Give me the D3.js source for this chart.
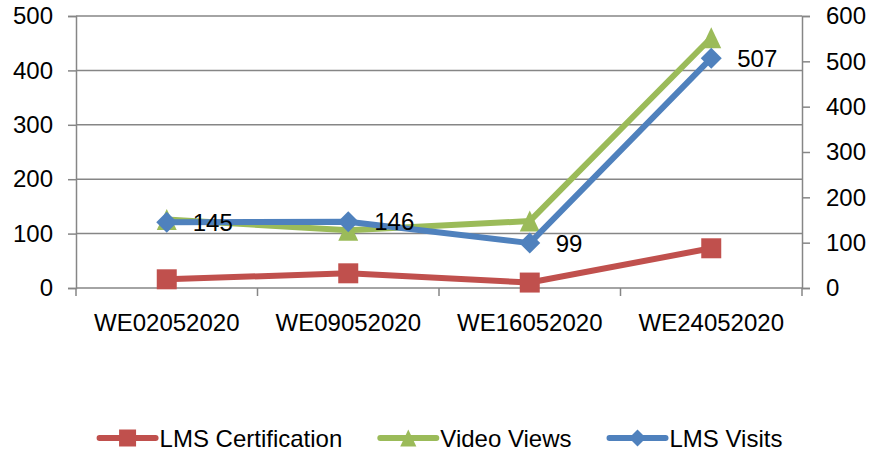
<!DOCTYPE html>
<html>
<head>
<meta charset="utf-8">
<script src="https://cdn.jsdelivr.net/npm/d3@7"></script>
<style>
  html, body { margin: 0; padding: 0; background: #fff; }
  svg text { font-family: "Liberation Sans", Arial, sans-serif; fill: #000; }
</style>
</head>
<body>
<div id="chart"></div>
<script>
// Chart data
const categories = ["WE02052020", "WE09052020", "WE16052020", "WE24052020"];
const lmsCertification = [16, 27, 10, 73];
const videoViews = [126, 106, 123, 460];
const lmsVisits = [145, 146, 99, 507];
const leftTicks = [0, 100, 200, 300, 400, 500];
const rightTicks = [0, 100, 200, 300, 400, 500, 600];

// Svg size
const width = 870;
const height = 451;

// Plot area
const plot = { left: 76, right: 802, top: 16, bottom: 288 };

const gridColor = "#868686";
const fontSize = 24;

const svg = d3.select("#chart").append("svg")
    .attr("width", width)
    .attr("height", height);

// Scales
const x = d3.scaleBand().domain(categories).range([plot.left, plot.right]);
const yLeft = d3.scaleLinear().domain([0, 500]).range([plot.bottom, plot.top]);
const yRight = d3.scaleLinear().domain([0, 600]).range([plot.bottom, plot.top]);

// Gridlines
svg.append("g")
    .selectAll("line")
    .data(leftTicks)
    .enter().append("line")
    .attr("x1", plot.left)
    .attr("x2", plot.right)
    .attr("y1", d => yLeft(d))
    .attr("y2", d => yLeft(d))
    .attr("stroke", gridColor)
    .attr("stroke-width", 1.5);

// Left axis
const leftAxis = svg.append("g")
    .attr("transform", "translate(" + plot.left + ",0)")
    .call(d3.axisLeft(yLeft).tickValues(leftTicks).tickSize(8).tickPadding(15));

// Right axis
const rightAxis = svg.append("g")
    .attr("transform", "translate(" + plot.right + ",0)")
    .call(d3.axisRight(yRight).tickValues(rightTicks).tickSize(8).tickPadding(16));

// Bottom axis, ticks sit between categories
const bottomAxis = svg.append("g")
    .attr("transform", "translate(0," + plot.bottom + ")")
    .call(d3.axisBottom(x).tickSize(0).tickPadding(26));

svg.append("g")
    .selectAll("line")
    .data(categories.concat(["end"]))
    .enter().append("line")
    .attr("x1", (d, i) => i < categories.length ? x(d) : x.range()[1])
    .attr("x2", (d, i) => i < categories.length ? x(d) : x.range()[1])
    .attr("y1", plot.bottom)
    .attr("y2", plot.bottom + 8)
    .attr("stroke", gridColor)
    .attr("stroke-width", 1.5);

[leftAxis, rightAxis, bottomAxis].forEach(a => {
    a.selectAll("path.domain").attr("stroke", gridColor).attr("stroke-width", 1.5);
    a.selectAll(".tick line").attr("stroke", gridColor).attr("stroke-width", 1.5);
    a.selectAll("text")
        .style("font-size", fontSize + "px")
        .style("font-family", '"Liberation Sans", Arial, sans-serif')
        .attr("fill", "#000");
});
bottomAxis.select("path.domain").remove();

// Marker shapes (bbox centred like the spreadsheet markers)
function markerPath(type, s) {
    const h = s / 2;
    if (type === "square") return `M${-h},${-h}H${h}V${h}H${-h}Z`;
    if (type === "triangle") return `M0,${-h}L${h * 0.95},${h}L${-h * 0.95},${h}Z`;
    return `M0,${-h}L${h},0L0,${h}L${-h},0Z`;
}

// Series
const series = [
    { name: "LMS Certification", values: lmsCertification, color: "#C0504D", marker: "square", scale: yLeft, size: 20 },
    { name: "Video Views", values: videoViews, color: "#9BBB59", marker: "triangle", scale: yLeft, size: 21 },
    { name: "LMS Visits", values: lmsVisits, color: "#4F81BD", marker: "diamond", scale: yRight, size: 21, labels: true }
];

series.forEach(s => {
    const line = d3.line()
        .x((d, i) => x(categories[i]) + x.bandwidth() / 2)
        .y(d => s.scale(d));

    svg.append("path")
        .datum(s.values)
        .attr("d", line)
        .attr("fill", "none")
        .attr("stroke", s.color)
        .attr("stroke-width", 6)
        .attr("stroke-linejoin", "round")
        .attr("stroke-linecap", "round");

    svg.append("g")
        .selectAll("path")
        .data(s.values)
        .enter().append("path")
        .attr("d", markerPath(s.marker, s.size))
        .attr("transform", (d, i) => "translate(" + (x(categories[i]) + x.bandwidth() / 2) + "," + s.scale(d) + ")")
        .attr("fill", s.color);
});

// Data labels for LMS Visits
const labelled = series.filter(s => s.labels);
labelled.forEach(s => {
    svg.append("g")
        .selectAll("text")
        .data(s.values)
        .enter().append("text")
        .attr("x", (d, i) => x(categories[i]) + x.bandwidth() / 2 + 26)
        .attr("y", d => s.scale(d))
        .attr("dy", "0.36em")
        .style("font-size", fontSize + "px")
        .text(d => d);
});

// Legend
const legendY = 438;
const legendGap = 38;
const legend = svg.append("g");

const items = legend.selectAll("g")
    .data(series)
    .enter().append("g");

items.append("line")
    .attr("x1", 0).attr("x2", 56)
    .attr("y1", 0).attr("y2", 0)
    .attr("stroke", d => d.color)
    .attr("stroke-width", 6)
    .attr("stroke-linecap", "round");

items.append("path")
    .attr("d", d => markerPath(d.marker, 17))
    .attr("transform", "translate(28,0)")
    .attr("fill", d => d.color);

items.append("text")
    .attr("x", 60)
    .attr("y", 0)
    .attr("dy", "0.36em")
    .style("font-size", fontSize + "px")
    .text(d => d.name);

// Lay out legend items side by side, centred
let offset = 0;
const widths = [];
items.each(function() {
    widths.push(60 + d3.select(this).select("text").node().getComputedTextLength());
});
const total = d3.sum(widths) + legendGap * (widths.length - 1);
let start = 441 - total / 2;
items.attr("transform", (d, i) => {
    const t = "translate(" + (start + offset) + "," + legendY + ")";
    offset += widths[i] + legendGap;
    return t;
});
</script>
</body>
</html>
